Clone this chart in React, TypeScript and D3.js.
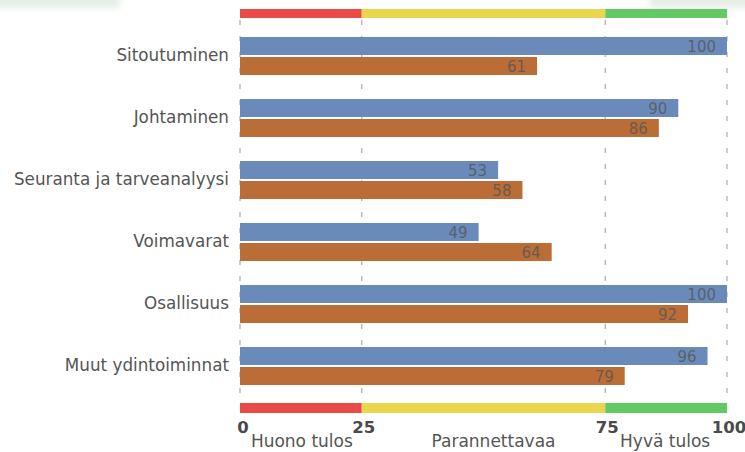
import React from "react";
import * as d3 from "d3";

const categories = ["Sitoutuminen", "Johtaminen", "Seuranta ja tarveanalyysi", "Voimavarat", "Osallisuus", "Muut ydintoiminnat"];
const seriesA = [100, 90, 53, 49, 100, 96];
const seriesB = [61, 86, 58, 64, 92, 79];
const tickValues = [0, 25, 75, 100];
const zones = [
  { from: 0, to: 25, color: "#ea4a48", label: "Huono tulos" },
  { from: 25, to: 75, color: "#ead64c", label: "Parannettavaa" },
  { from: 75, to: 100, color: "#62c964", label: "Hyvä tulos" },
];
const zoneLabelShift = [1, 10, -1];

export default function App() {
  const W = 745, H = 452;
  const x = d3.scaleLinear().domain([0, 100]).range([240, 727]);
  const y = d3.scaleBand().domain(categories).range([30, 402]).paddingInner(0).paddingOuter(0);
  const barH = 18;
  const font = "'DejaVu Sans', Verdana, sans-serif";
  return (
    <svg width={W} height={H} style={{ position: "absolute", left: 0, top: 0 }}>
      <defs>
        <filter id="blur" x="-20%" y="-100%" width="140%" height="300%">
          <feGaussianBlur stdDeviation="3" />
        </filter>
      </defs>
      <rect width={W} height={H} fill="#fff" />
      <rect x={-10} y={-6} width={130} height={14} fill="#e6eee6" filter="url(#blur)" />
      <rect x={650} y={-6} width={110} height={14} fill="#e6eee6" filter="url(#blur)" />
      {tickValues.map((t) => (
        <line key={t} x1={x(t)} x2={x(t)} y1={20} y2={403} stroke="#aaa" strokeWidth={1.2} strokeDasharray="5,11" />
      ))}
      {zones.map((z) => (
        <g key={z.label}>
          <rect x={x(z.from)} y={9} width={x(z.to) - x(z.from)} height={9} fill={z.color} />
          <rect x={x(z.from)} y={403} width={x(z.to) - x(z.from)} height={10} fill={z.color} />
        </g>
      ))}
      {categories.map((c, i) => {
        const y0 = (y(c) as number) + 7;
        return (
          <g key={c}>
            <text x={229} y={y0 + 23.5} textAnchor="end" fontFamily={font} fontSize={16.8} fill="#555">{c}</text>
            <rect x={x(0)} y={y0} width={x(seriesA[i]) - x(0)} height={barH} fill="#6a8aba" />
            <rect x={x(0)} y={y0 + barH + 2} width={x(seriesB[i]) - x(0)} height={barH} fill="#ba6d37" />
            <text x={x(seriesA[i]) - 11} y={y0 + 14.5} textAnchor="end" fontFamily={font} fontSize={15} fill="#555" fillOpacity={0.8}>{seriesA[i]}</text>
            <text x={x(seriesB[i]) - 11} y={y0 + barH + 2 + 14.5} textAnchor="end" fontFamily={font} fontSize={15} fill="#555" fillOpacity={0.8}>{seriesB[i]}</text>
          </g>
        );
      })}
      {tickValues.map((t) => (
        <text key={t} x={t === 0 ? x(t) + 3 : x(t) + 2} y={433} textAnchor="middle" fontFamily={font} fontWeight="bold" fontSize={16.5} fill="#4a4a4a">{t}</text>
      ))}
      {zones.map((z, i) => (
        <text key={z.label} x={(x(z.from) + x(z.to)) / 2 + zoneLabelShift[i]} y={447} textAnchor="middle" fontFamily={font} fontSize={17} fill="#555">{z.label}</text>
      ))}
    </svg>
  );
}
